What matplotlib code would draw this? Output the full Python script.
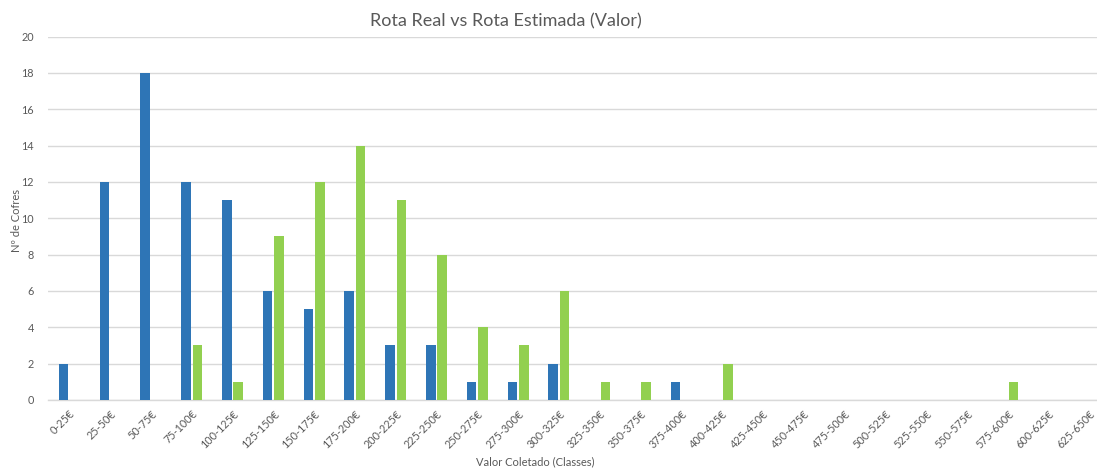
import matplotlib
matplotlib.use("Agg")
import matplotlib.pyplot as plt
import numpy as np

categories = ["0-25€", "25-50€", "50-75€", "75-100€", "100-125€", "125-150€", "150-175€",
              "175-200€", "200-225€", "225-250€", "250-275€", "275-300€", "300-325€",
              "325-350€", "350-375€", "375-400€", "400-425€", "425-450€", "450-475€",
              "475-500€", "500-525€", "525-550€", "550-575€", "575-600€", "600-625€", "625-650€"]
rota_real = [2, 12, 18, 12, 11, 6, 5, 6, 3, 3, 1, 1, 2, 0, 0, 1, 0, 0, 0, 0, 0, 0, 0, 0, 0, 0]
rota_estimada = [0, 0, 0, 3, 1, 9, 12, 14, 11, 8, 4, 3, 6, 1, 1, 0, 2, 0, 0, 0, 0, 0, 0, 1, 0, 0]
y_ticks = [0, 2, 4, 6, 8, 10, 12, 14, 16, 18, 20]

plt.rcParams['font.family'] = ['Lato', 'DejaVu Sans']
text_color = '#595959'
grid_color = '#D9D9D9'

W, H = 1097, 468
fig = plt.figure(figsize=(W / 100, H / 100), dpi=100)
ax = fig.add_axes([48 / W, 68 / H, (1097 - 48) / W, (400 - 36.5) / H])

x = np.arange(len(categories))
bw = 0.235
off = 0.1385
ax.bar(x - off, rota_real, width=bw, color='#2E75B6', zorder=3)
ax.bar(x + off, rota_estimada, width=bw, color='#92D050', zorder=3)

ax.set_xlim(-0.523, -0.523 + 1049 / 40.8)
ax.set_ylim(0, 20)
ax.set_yticks(y_ticks)
ax.set_xticks(x)
ax.set_xticklabels(categories, rotation=45, ha='right', rotation_mode='anchor',
                   fontsize=7.8, color=text_color)
ax.tick_params(axis='x', length=0, pad=6)
ax.tick_params(axis='y', length=0, pad=10, labelsize=7.8, labelcolor=text_color)
ax.yaxis.grid(True, color=grid_color, linewidth=1, zorder=0)
for s in ['top', 'right', 'left']:
    ax.spines[s].set_visible(False)
ax.spines['bottom'].set_color(grid_color)
ax.spines['bottom'].set_linewidth(1)

fig.text(506 / W, 1 - 21 / H, "Rota Real vs Rota Estimada (Valor)", ha='center', va='center',
         fontsize=13, color=text_color)
fig.text(535 / W, 1 - 462 / H, "Valor Coletado (Classes)", ha='center', va='center',
         fontsize=8, color=text_color)
fig.text(17 / W, 1 - 220 / H, "Nº de Cofres", ha='center', va='center', rotation=90,
         fontsize=8, color=text_color)

fig.savefig("out.png", dpi=100)
